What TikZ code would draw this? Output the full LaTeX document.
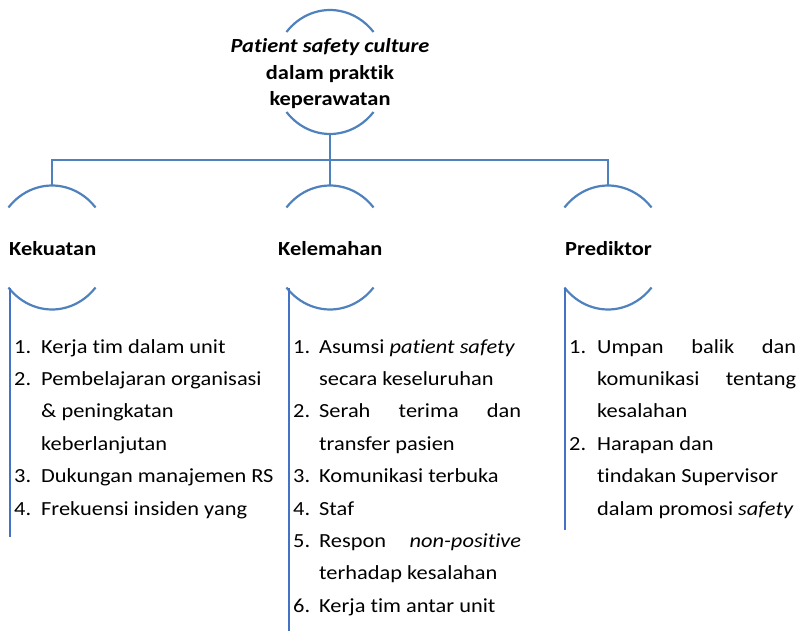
\documentclass[tikz,border=0pt]{standalone}
\usepackage{fontspec}
\setmainfont{Carlito}[FakeStretch=1.12,Ligatures=NoCommon]
\begin{document}
\begin{tikzpicture}[x=1pt,y=-1pt,
  conn/.style={draw=connblue,line width=2.2pt},
  side/.style={draw=sideblue,line width=2.6pt},
  txt/.style={inner sep=0pt,anchor=base west,font=\fontsize{20}{24}\selectfont},
  ttl/.style={inner sep=0pt,anchor=base,font=\fontsize{20}{24}\selectfont\bfseries},
  head/.style={inner sep=0pt,anchor=base west,font=\fontsize{20}{24}\selectfont\bfseries}]
\definecolor{connblue}{HTML}{4F81BD}
\definecolor{sideblue}{HTML}{4472C4}
\useasboundingbox (0,0) rectangle (799,631);
% circle centres
\coordinate (tc) at (330,72);
\coordinate (lc) at (52,247.5);
\coordinate (mc) at (330,247.5);
\coordinate (rc) at (608,247.5);
% arcs
\foreach \c in {tc,lc,mc,rc}{
  \draw[conn] (\c) ++(139.8:57pt and 62pt) arc[start angle=139.8,end angle=40.2,x radius=57pt,y radius=62pt];
  \draw[conn] (\c) ++(-139.8:57pt and 62pt) arc[start angle=-139.8,end angle=-40.2,x radius=57pt,y radius=62pt];
}
\coordinate (tbot) at (330,134);
\coordinate (ltop) at (52,185.5);
\coordinate (mtop) at (330,185.5);
\coordinate (rtop) at (608,185.5);
\coordinate (hl) at (52,160);
\coordinate (hr) at (608,160);
\draw[conn] (tbot) -- (mtop);
\draw[conn] (ltop) -- (hl) -- (hr) -- (rtop);
% side lines
\coordinate (ls1) at (10,288); \coordinate (ls2) at (10,537);
\coordinate (ms1) at (289,288); \coordinate (ms2) at (289,631);
\coordinate (rs1) at (565,288); \coordinate (rs2) at (565,530);
\draw[side] (ls1) -- (ls2);
\draw[side] (ms1) -- (ms2);
\draw[side] (rs1) -- (rs2);
% title
\node[ttl] (t1) at (330,53) {\itshape Patient safety culture};
\node[ttl] (t2) at (330,79.5) {dalam praktik};
\node[ttl] (t3) at (330,106) {keperawatan};
% headings
\node[head] (h1) at (9,255) {Kekuatan};
\node[head] (h2) at (278,255) {Kelemahan};
\node[head] (h3) at (565,255) {Prediktor};
% left list
\node[txt] (ln1) at (14,353) {1.};
\node[txt] (lt1) at (41,353) {Kerja tim dalam unit};
\node[txt] (ln2) at (14,385.4) {2.};
\node[txt] (lt2) at (41,385.4) {Pembelajaran organisasi};
\node[txt] (lt3) at (41,417.8) {\& peningkatan};
\node[txt] (lt4) at (41,450.2) {keberlanjutan};
\node[txt] (ln3) at (14,482.6) {3.};
\node[txt] (lt5) at (41,482.6) {Dukungan manajemen RS};
\node[txt] (ln4) at (14,515) {4.};
\node[txt] (lt6) at (41,515) {Frekuensi insiden yang};
% middle list
\node[txt] (mn1) at (293,353) {1.};
\node[txt] (mt1) at (319,353) {Asumsi \textit{patient safety}};
\node[txt] (mt2) at (319,385.4) {secara keseluruhan};
\node[txt] (mn2) at (293,417.8) {2.};
\node[txt] (mt3) at (319,417.8) {\makebox[202pt][s]{Serah terima dan}};
\node[txt] (mt4) at (319,450.2) {transfer pasien};
\node[txt] (mn3) at (293,482.6) {3.};
\node[txt] (mt5) at (319,482.6) {Komunikasi terbuka};
\node[txt] (mn4) at (293,515) {4.};
\node[txt] (mt6) at (319,515) {Staf};
\node[txt] (mn5) at (293,547.4) {5.};
\node[txt] (mt7) at (319,547.4) {\makebox[202pt][s]{Respon \textit{non-positive}}};
\node[txt] (mt8) at (319,579.8) {terhadap kesalahan};
\node[txt] (mn6) at (293,612.2) {6.};
\node[txt] (mt9) at (319,612.2) {Kerja tim antar unit};
% right list
\node[txt] (rn1) at (569,353) {1.};
\node[txt] (rt1) at (597,353) {\makebox[199pt][s]{Umpan balik dan}};
\node[txt] (rt2) at (597,385.4) {\makebox[199pt][s]{komunikasi tentang}};
\node[txt] (rt3) at (597,417.8) {kesalahan};
\node[txt] (rn2) at (569,450.2) {2.};
\node[txt] (rt4) at (597,450.2) {Harapan dan};
\node[txt] (rt5) at (597,482.6) {tindakan Supervisor};
\node[txt] (rt6) at (597,515) {dalam promosi \textit{safety}};
\end{tikzpicture}
\end{document}
